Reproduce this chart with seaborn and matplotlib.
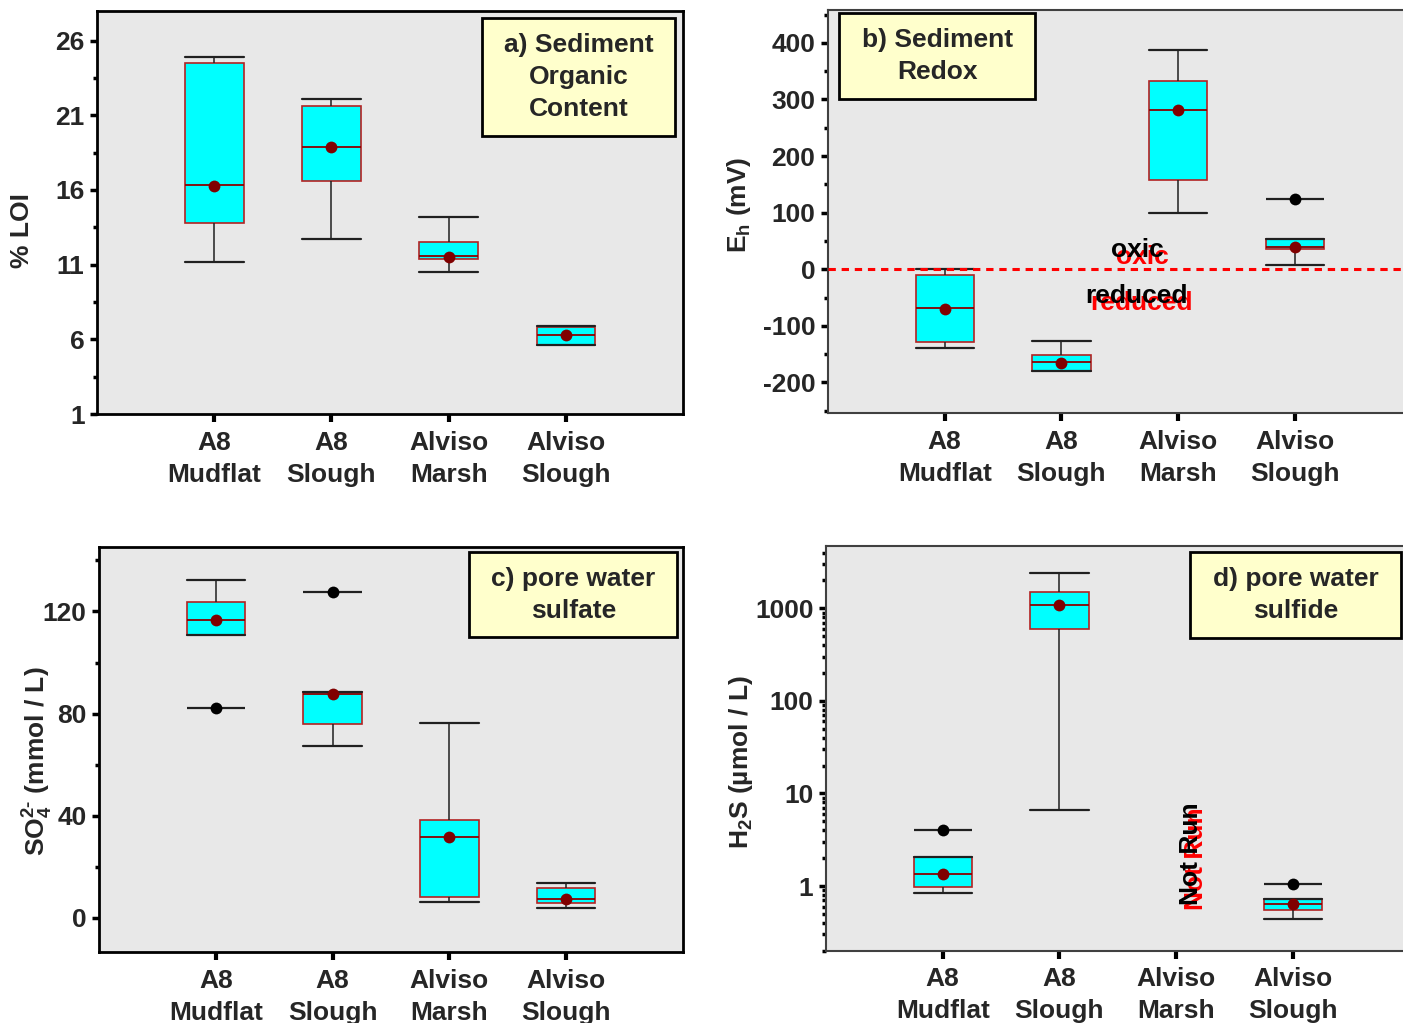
import numpy as np
import pandas as pd
import matplotlib
matplotlib.use("Agg")
import matplotlib.pyplot as plt
import matplotlib.ticker as mticker
from matplotlib.patches import Rectangle
from matplotlib.transforms import ScaledTranslation
import seaborn as sns

# ---------------------------------------------------------------- data
sites = ["A8\nMudflat", "A8\nSlough", "Alviso\nMarsh", "Alviso\nSlough"]

# a) sediment organic content (% LOI)
loi_low = [11.2, 12.7, 10.5, 5.6]
loi_q1 = [13.8, 16.6, 11.4, 5.6]
loi_med = [16.3, 18.9, 11.55, 6.3]
loi_q3 = [24.5, 21.6, 12.5, 6.8]
loi_high = [24.9, 22.1, 14.2, 6.9]
loi_mean = [16.25, 18.85, 11.5, 6.3]
loi_out_site = []
loi_out_val = []
loi_yticks = [1, 6, 11, 16, 21, 26]

# b) sediment redox potential (mV)
eh_low = [-140, -180, 100, 7.6]
eh_q1 = [-129, -179, 157, 35]
eh_med = [-69, -164, 282, 39]
eh_q3 = [-11, -151, 332, 54]
eh_high = [0, -126, 387, 54]
eh_mean = [-70, -165, 281, 39.4]
eh_out_site = ["Alviso\nSlough"]
eh_out_val = [123.5]
eh_yticks = [-200, -100, 0, 100, 200, 300, 400]

# c) pore water sulfate (mmol / L)
so4_low = [110.8, 67.4, 6.2, 3.9]
so4_q1 = [110.8, 75.9, 8.2, 5.8]
so4_med = [116.5, 87.5, 31.4, 7.1]
so4_q3 = [123.6, 88.5, 38.4, 11.4]
so4_high = [132.4, 88.5, 76.2, 13.4]
so4_mean = [116.5, 87.5, 31.4, 7.1]
so4_out_site = ["A8\nMudflat", "A8\nSlough"]
so4_out_val = [82.0, 127.5]
so4_yticks = [0, 40, 80, 120]

# d) pore water sulfide (umol / L); Alviso Marsh not run
h2s_low = [0.83, 6.6, np.nan, 0.444]
h2s_q1 = [0.98, 600, np.nan, 0.546]
h2s_med = [1.36, 1100, np.nan, 0.645]
h2s_q3 = [2.06, 1520, np.nan, 0.724]
h2s_high = [2.06, 2420, np.nan, 0.724]
h2s_mean = [1.35, 1100, np.nan, 0.645]
h2s_out_site = ["A8\nMudflat", "Alviso\nSlough"]
h2s_out_val = [4.07, 1.04]
h2s_yticks = [1, 10, 100, 1000]

# ---------------------------------------------------------------- style
sns.set_theme(style="ticks")
plt.rcParams["font.family"] = ["Liberation Sans", "DejaVu Sans"]
plt.rcParams["font.weight"] = "bold"
plt.rcParams["axes.labelweight"] = "bold"
plt.rcParams["axes.unicode_minus"] = False
plt.rcParams["mathtext.fontset"] = "custom"
plt.rcParams["mathtext.rm"] = "Liberation Sans:bold"
plt.rcParams["mathtext.bf"] = "Liberation Sans:bold"
plt.rcParams["mathtext.default"] = "bf"

FS = 19
LS = 1.42
PANEL_BG = "#E8E8E8"
BOX_FILL = "#00FFFF"
BOX_EDGE = "#B22222"
MEDIAN_C = "#8B0000"
MEAN_C = "#800000"
NOTE_BG = "#FFFFCC"

fig = plt.figure(figsize=(14.03, 10.23), dpi=100)
W, H = 1403, 1023


def add_axes_px(left, top, width, height):
    return fig.add_axes([left / W, 1 - (top + height) / H, width / W, height / H])


def long_form(low, q1, med, q3, high):
    rows = []
    for s, *vals in zip(sites, low, q1, med, q3, high):
        if np.isnan(vals[0]):
            continue
        for v in vals:
            rows.append({"site": s, "value": v})
    return pd.DataFrame(rows)


def draw_panel(ax, low, q1, med, q3, high, mean, out_site, out_val,
               log=False, spine_c="black", spine_w=2.0):
    ax.set_facecolor(PANEL_BG)
    df = long_form(low, q1, med, q3, high)
    sns.boxplot(
        data=df, x="site", y="value", order=sites, ax=ax,
        whis=(0, 100), width=0.5, color=BOX_FILL, saturation=1,
        linewidth=1, log_scale=(True if log else None),
        boxprops=dict(facecolor=BOX_FILL, edgecolor=BOX_EDGE, linewidth=1.2),
        medianprops=dict(color=MEDIAN_C, linewidth=1.3),
        whiskerprops=dict(color="#202020", linewidth=1.1),
        capprops=dict(color="#202020", linewidth=1.6),
        capwidths=0.5,
    )
    # outlying points with their marker bars
    if out_site:
        pos = [sites.index(s) for s in out_site]
        ax.hlines(out_val, [p - 0.25 for p in pos], [p + 0.25 for p in pos],
                  color="#202020", linewidth=1.6, zorder=4)
        sns.stripplot(x=out_site, y=out_val, order=sites, jitter=False,
                      color="black", size=8.5, linewidth=0, ax=ax, zorder=6)
    # means
    keep = [i for i, m in enumerate(mean) if not np.isnan(m)]
    sns.stripplot(x=[sites[i] for i in keep], y=[mean[i] for i in keep],
                  order=sites, jitter=False, color=MEAN_C, size=8.5,
                  linewidth=0, ax=ax, zorder=7)
    ax.set_xlim(-1, 4)
    ax.set_xticks(range(len(sites)))
    ax.set_xticklabels(sites, fontsize=FS, fontweight="bold", linespacing=LS)
    ax.set_xlabel("")
    for sp in ax.spines.values():
        sp.set_visible(True)
        sp.set_color(spine_c)
        sp.set_linewidth(spine_w)
    ax.tick_params(axis="x", which="major", direction="out", length=6,
                   width=3, pad=6, labelsize=FS, color="black")
    ax.tick_params(axis="y", which="major", direction="out", length=5,
                   width=2.5, pad=4, labelsize=FS, color="black")
    ax.tick_params(axis="y", which="minor", direction="out", length=3,
                   width=2.5, color="black")
    ax.tick_params(axis="x", which="minor", bottom=False)
    ax.grid(False)


def note(ax, x0, y0, x1, y1, text):
    ax.add_patch(Rectangle((x0, y0), x1 - x0, y1 - y0, transform=ax.transAxes,
                           facecolor=NOTE_BG, edgecolor="black", linewidth=2,
                           zorder=8, clip_on=False))
    ax.text((x0 + x1) / 2, (y0 + y1) / 2, text, transform=ax.transAxes,
            ha="center", va="center", fontsize=FS, fontweight="bold",
            linespacing=LS, zorder=9)


def set_ylabel(ax, text, x, y):
    ax.set_ylabel(text, fontsize=FS, fontweight="bold")
    ax.yaxis.set_label_coords(x, y)
    ax.yaxis.label.set_va("center")
    ax.yaxis.label.set_ha("center")


def shadow_text(ax, x, y, text, dx=5, dy=6, **kw):
    off = ScaledTranslation(dx / 100, -dy / 100, fig.dpi_scale_trans)
    ax.text(x, y, text, color="red", transform=ax.transData + off,
            fontsize=FS, fontweight="bold", zorder=5, **kw)
    ax.text(x, y, text, color="black", transform=ax.transData,
            fontsize=FS, fontweight="bold", zorder=5, **kw)


# ---------------------------------------------------------------- a
ax_a = add_axes_px(97, 10.7, 586, 403.3)
draw_panel(ax_a, loi_low, loi_q1, loi_med, loi_q3, loi_high, loi_mean,
           loi_out_site, loi_out_val)
ax_a.set_ylim(1, 28)
ax_a.set_yticks(loi_yticks)
ax_a.yaxis.set_minor_locator(mticker.FixedLocator(np.array(loi_yticks) + 2.5))
set_ylabel(ax_a, "% LOI", -0.128, 0.456)
note(ax_a, 0.657, 0.690, 0.986, 0.982, "a) Sediment\nOrganic\nContent")

# ---------------------------------------------------------------- b
ax_b = add_axes_px(828, 10, 583.5, 403)
draw_panel(ax_b, eh_low, eh_q1, eh_med, eh_q3, eh_high, eh_mean,
           eh_out_site, eh_out_val, spine_c="#404040", spine_w=1.5)
ax_b.set_ylim(-254, 458)
ax_b.set_yticks(eh_yticks)
ax_b.yaxis.set_minor_locator(mticker.MultipleLocator(50))
ax_b.axhline(0, color="#FF0000", linewidth=2.2, dashes=(2.4, 1.9), zorder=3)
shadow_text(ax_b, 1.65, 22, "oxic", dx=5.5, dy=7, ha="center", va="baseline")
shadow_text(ax_b, 1.64, -60, "reduced", dx=5, dy=6.5, ha="center", va="baseline")
set_ylabel(ax_b, "E$_{h}$ (mV)", -0.152, 0.516)
note(ax_b, 0.019, 0.779, 0.355, 0.993, "b) Sediment\nRedox")

# ---------------------------------------------------------------- c
ax_c = add_axes_px(99, 546.7, 584, 405.3)
draw_panel(ax_c, so4_low, so4_q1, so4_med, so4_q3, so4_high, so4_mean,
           so4_out_site, so4_out_val)
ax_c.set_ylim(-13.5, 145.4)
ax_c.set_yticks(so4_yticks)
ax_c.yaxis.set_minor_locator(mticker.MultipleLocator(20))
set_ylabel(ax_c, r"SO$_{4}^{2\text{-}}$ (mmol / L)", -0.104, 0.471)
note(ax_c, 0.634, 0.776, 0.990, 0.988, "c) pore water\nsulfate")

# ---------------------------------------------------------------- d
ax_d = add_axes_px(826, 545.7, 583.5, 405)
draw_panel(ax_d, h2s_low, h2s_q1, h2s_med, h2s_q3, h2s_high, h2s_mean,
           h2s_out_site, h2s_out_val, log=True, spine_c="#404040", spine_w=1.5)
ax_d.set_yscale("log")
ax_d.set_ylim(0.2, 4750)
ax_d.yaxis.set_major_locator(mticker.FixedLocator(h2s_yticks))
ax_d.yaxis.set_major_formatter(mticker.FixedFormatter([str(v) for v in h2s_yticks]))
ax_d.yaxis.set_minor_locator(mticker.LogLocator(base=10, subs=np.arange(2, 10)))
ax_d.yaxis.set_minor_formatter(mticker.NullFormatter())
ax_d.tick_params(axis="y", which="major", labelsize=FS)
shadow_text(ax_d, 2.19, 2.26, "Not Run", dx=5, dy=5, rotation=90,
            rotation_mode="anchor", ha="center", va="baseline")
set_ylabel(ax_d, "H$_{2}$S (µmol / L)", -0.145, 0.466)
note(ax_d, 0.624, 0.773, 0.985, 0.984, "d) pore water\nsulfide")

for ax in (ax_a, ax_b, ax_c, ax_d):
    for lbl in ax.get_yticklabels() + ax.get_xticklabels():
        lbl.set_fontweight("bold")

fig.savefig("out.png", dpi=100, facecolor="white")
